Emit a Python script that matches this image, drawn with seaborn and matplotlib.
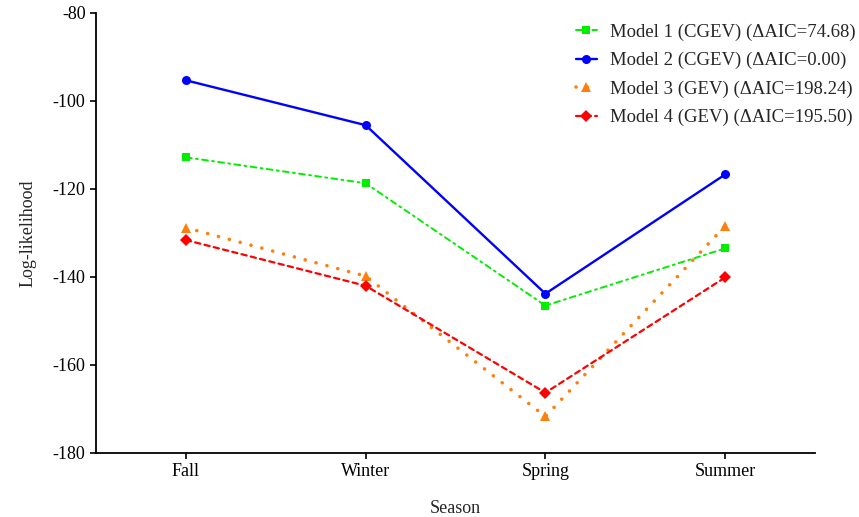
import numpy as np
import pandas as pd
import matplotlib
matplotlib.use("Agg")
import matplotlib.pyplot as plt
import seaborn as sns

seasons = ["Fall", "Winter", "Spring", "Summer"]
model1 = [-112.8, -118.7, -146.5, -133.5]
model2 = [-95.3, -105.5, -143.8, -116.7]
model3 = [-128.8, -139.8, -171.7, -128.4]
model4 = [-131.6, -142.0, -166.3, -140.1]
labels = ["Model 1 (CGEV) (\u0394AIC=74.68)",
          "Model 2 (CGEV) (\u0394AIC=0.00)",
          "Model 3 (GEV) (\u0394AIC=198.24)",
          "Model 4 (GEV) (\u0394AIC=195.50)"]
yticks = [-180, -160, -140, -120, -100, -80]

sns.set_style("ticks")
plt.rcParams["font.family"] = ["Liberation Serif", "DejaVu Serif"]

fig = plt.figure(figsize=(8.59, 5.17), dpi=100)
ax = fig.add_axes([0.1118, 0.1238, 0.9488 - 0.1118, 0.9749 - 0.1238])

xpos = np.arange(len(seasons))
styles = [
    dict(color="#00ee00", marker="s", ms=5.5, lw=1.4, ls=(0, (3, 2.2, 1, 2.2))),
    dict(color="#0000ff", marker="o", ms=6.5, lw=1.7, ls="-"),
    dict(color="#ff7f0e", marker="^", ms=7.5, lw=2.6, ls=(0, (0.01, 3.1))),
    dict(color="#ff0000", marker="D", ms=6.5, lw=1.6, ls=(0, (2.4, 1.9))),
]
for vals, lab, st in zip([model1, model2, model3, model4], labels, styles):
    df = pd.DataFrame({"x": xpos, "y": vals})
    sns.lineplot(data=df, x="x", y="y", ax=ax, color=st["color"], marker=st["marker"],
                 markersize=st["ms"], markeredgewidth=0, linewidth=st["lw"],
                 linestyle=st["ls"], label=lab, dash_capstyle="round")

ax.set_xlim(-0.5, 3.5)
ax.set_ylim(-180, -80)
ax.set_xticks(xpos)
ax.set_xticklabels(seasons)
ax.set_yticks(yticks)
ax.set_yticklabels([str(t) for t in yticks])
ax.tick_params(axis="both", labelsize=13, direction="out", length=4, width=1.2, color="black", labelcolor="black")
for s in ["left", "bottom"]:
    ax.spines[s].set_linewidth(1.3)
    ax.spines[s].set_color("black")
sns.despine(ax=ax)
ax.set_xlabel("Season", fontsize=13, labelpad=14)
ax.set_ylabel("Log-likelihood", fontsize=13, labelpad=12)

leg = ax.legend(loc="upper right", bbox_to_anchor=(1.0, 0.962), bbox_transform=fig.transFigure,
                frameon=False, fontsize=13.5, handlelength=1.1, handletextpad=0.7,
                labelspacing=0.6, borderaxespad=0, borderpad=0.2)

fig.savefig("out.png", dpi=100)
